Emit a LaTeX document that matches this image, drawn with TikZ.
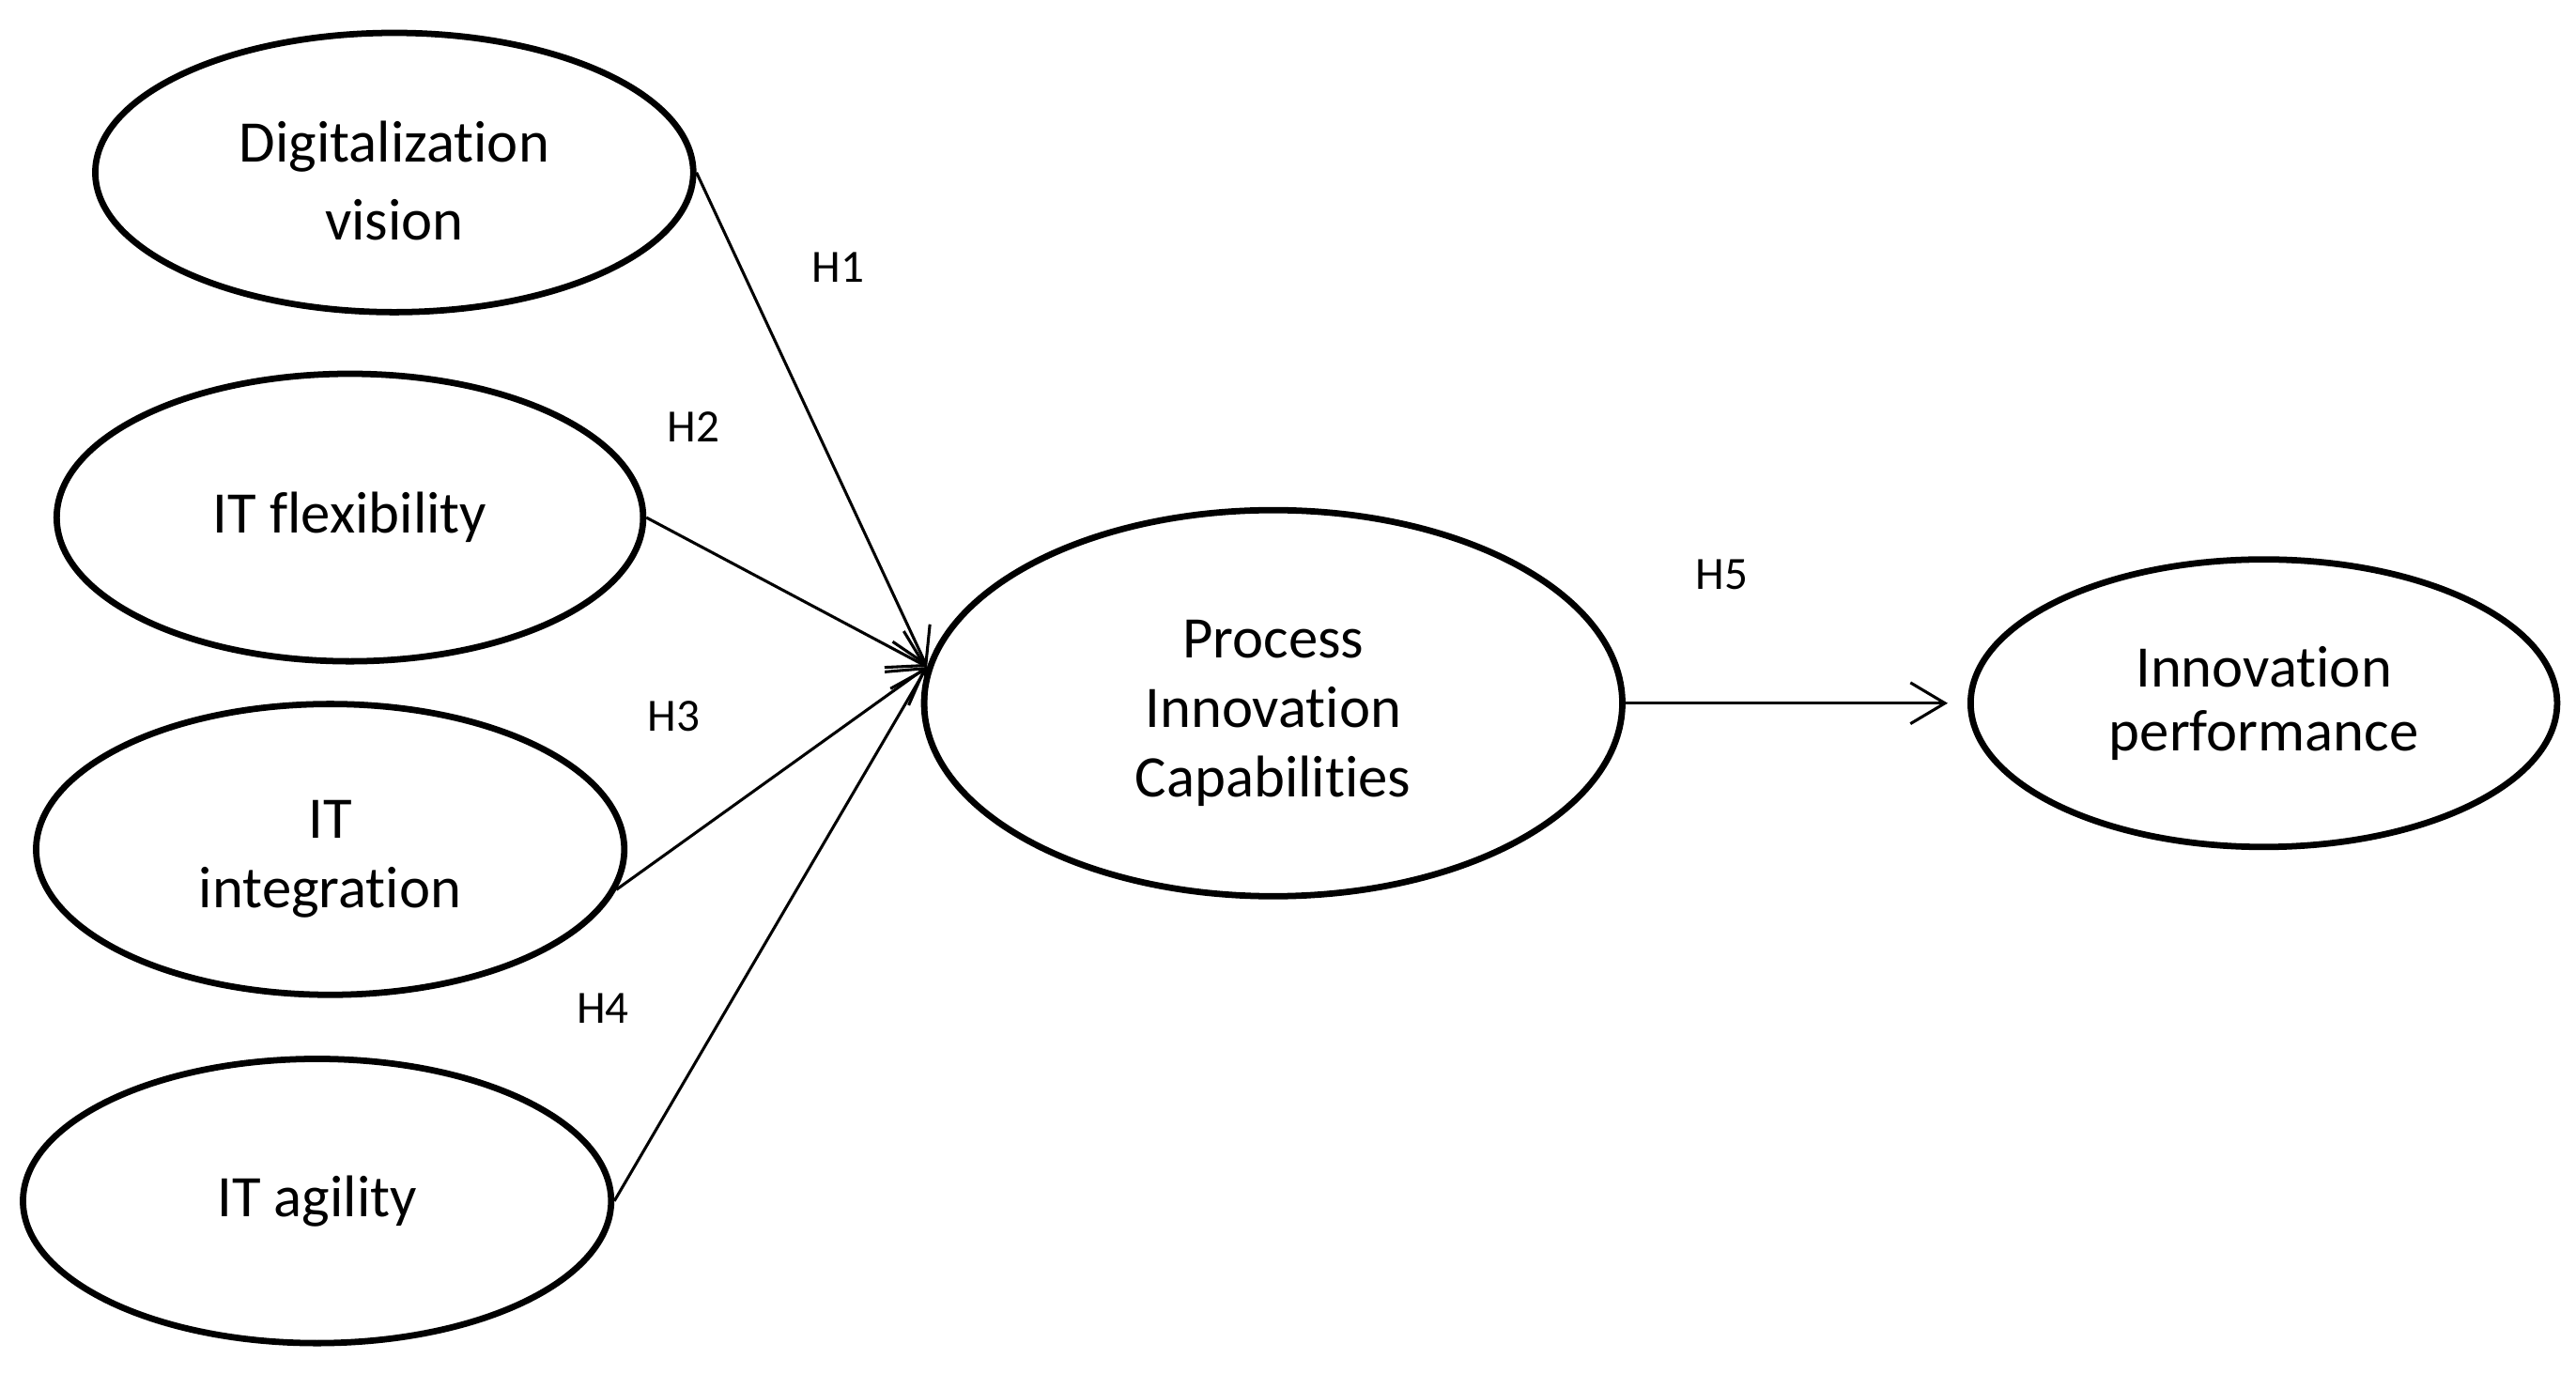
\documentclass[tikz,border=0pt]{standalone}
\usepackage{fontspec}
\setmainfont{Carlito}[Ligatures={NoCommon,NoContextual}]
\usepackage{tikz}
\usetikzlibrary{arrows.meta, shapes.geometric}

\begin{document}
\begin{tikzpicture}[>={Straight Barb[length=2.1mm, width=2.5mm]},
  construct/.style={ellipse, draw, line width=1.1pt, inner sep=0pt, align=center,
    font=\fontsize{10.2}{12}\selectfont},
  hyp/.style={->, line width=0.5pt},
  hlabel/.style={font=\fontsize{8}{10}\selectfont}]
  \useasboundingbox (0,0) rectangle (15.68,8.36);

  \node[construct, minimum width=3.64cm, minimum height=1.70cm] (dv) at (2.40, 7.31) {\\[-2pt]Digitalization\\[1.5pt] vision};
  \node[construct, minimum width=3.57cm, minimum height=1.75cm] (flex) at (2.13, 5.21) {IT flexibility};
  \node[construct, minimum width=3.58cm, minimum height=1.77cm] (integ) at (2.01, 3.19) {\\[-2pt]IT\\ integration};
  \node[construct, minimum width=3.58cm, minimum height=1.73cm] (agil) at (1.93, 1.05) {IT agility};

  \node[construct, minimum width=4.25cm, minimum height=2.35cm] (pic) at (7.75, 4.08) {\\[-2pt]Process\\ Innovation\\ Capabilities};
  \node[construct, minimum width=3.57cm, minimum height=1.75cm, font=\fontsize{10.2}{11}\selectfont] (perf) at (13.78, 4.08) {Innovation\\ performance};

  \draw[hyp] (dv.east) -- (pic.174);
  \draw[hyp] (flex.east) -- (pic.174);
  \draw[hyp] (integ.-8) -- (pic.174);
  \draw[hyp] (agil.east) -- (pic.174);
  \draw[hyp, shorten >=1.2mm] (pic.east) -- (perf.west);

  \node[hlabel] (h1) at (5.10, 6.73) {H1};
  \node[hlabel] (h2) at (4.22, 5.76) {H2};
  \node[hlabel] (h3) at (4.10, 4.00) {H3};
  \node[hlabel] (h4) at (3.67, 2.22) {H4};
  \node[hlabel] (h5) at (10.48, 4.86) {H5};
\end{tikzpicture}
\end{document}
